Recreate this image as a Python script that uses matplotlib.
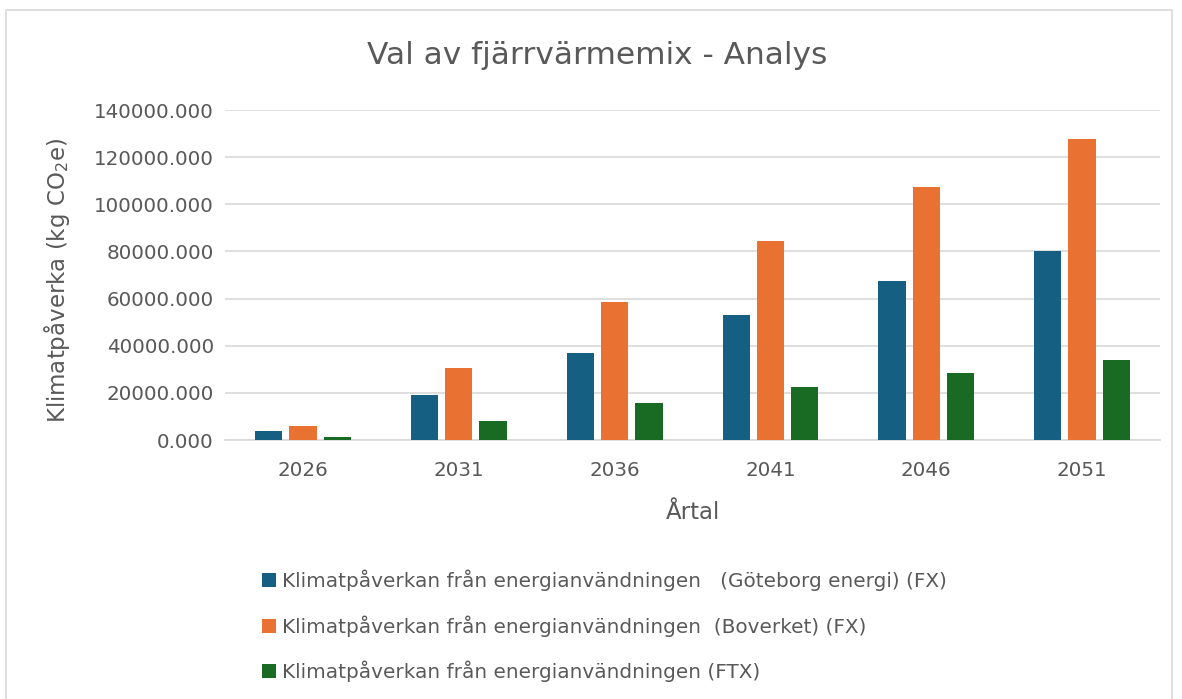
import matplotlib
matplotlib.use("Agg")
import matplotlib.pyplot as plt
import numpy as np
from matplotlib.patches import Rectangle
from matplotlib.ticker import FuncFormatter

years = ["2026", "2031", "2036", "2041", "2046", "2051"]
goteborg = [3950, 19200, 36800, 53000, 67300, 80300]
boverket = [6070, 30700, 58550, 84300, 107200, 127700]
ftx = [1400, 8060, 15550, 22350, 28400, 33900]
labels = [
    "Klimatpåverkan från energianvändningen   (Göteborg energi) (FX)",
    "Klimatpåverkan från energianvändningen  (Boverket) (FX)",
    "Klimatpåverkan från energianvändningen (FTX)",
]
colors = ["#156082", "#E97132", "#196B24"]

plt.rcParams['font.family'] = ['DejaVu Sans']
plt.rcParams['mathtext.fontset'] = 'dejavusans'
text_col = "#595959"

fig = plt.figure(figsize=(11.82, 6.99), dpi=100)
ax = fig.add_axes([0.1904, 0.3705, 0.7910, 0.4721])

# chart border
fig.patches.append(Rectangle((6 / 1182, -0.05), 1166 / 1182, 1 - 10 / 699 + 0.05,
                             transform=fig.transFigure, fill=False,
                             edgecolor="#D9D9D9", linewidth=1.2))

x = np.arange(len(years))
w = 0.175
step = 0.220
series = [goteborg, boverket, ftx]
for i, vals in enumerate(series):
    ax.bar(x + (i - 1) * step, vals, width=w, color=colors[i], label=labels[i], zorder=3)

ax.set_xlim(-0.5, 5.5)
ax.set_ylim(0, 140000)
ax.set_yticks(np.arange(0, 140001, 20000))
ax.yaxis.set_major_formatter(FuncFormatter(lambda v, p: "{:.3f}".format(v)))
ax.set_xticks(x)
ax.set_xticklabels(years)
ax.grid(axis="y", color="#D9D9D9", linewidth=1.2, zorder=0)
for s in ["top", "right", "left"]:
    ax.spines[s].set_visible(False)
ax.spines["bottom"].set_color("#D9D9D9")
ax.spines["bottom"].set_linewidth(1.2)
ax.tick_params(axis="both", length=0, labelsize=14.3, colors=text_col)
ax.tick_params(axis="y", pad=8)
ax.tick_params(axis="x", pad=15)

ax.set_xlabel("Årtal", fontsize=16.5, color=text_col)
ax.xaxis.set_label_coords(0.5, -0.184)
ax.set_ylabel("Klimatpåverka (kg CO$_2$e)", fontsize=16.5, color=text_col)
ax.yaxis.set_label_coords(-0.164, 0.482)

fig.text(0.505, 0.921, "Val av fjärrvärmemix - Analys", ha="center", va="center",
         fontsize=22.5, color=text_col)

leg = fig.legend(loc="upper left", bbox_to_anchor=(0.2064, 0.211), frameon=False,
                 fontsize=14.4, labelcolor=text_col, handlelength=0.7, handleheight=0.7,
                 handletextpad=0.3, labelspacing=1.2)

fig.savefig("out.png", dpi=100)
